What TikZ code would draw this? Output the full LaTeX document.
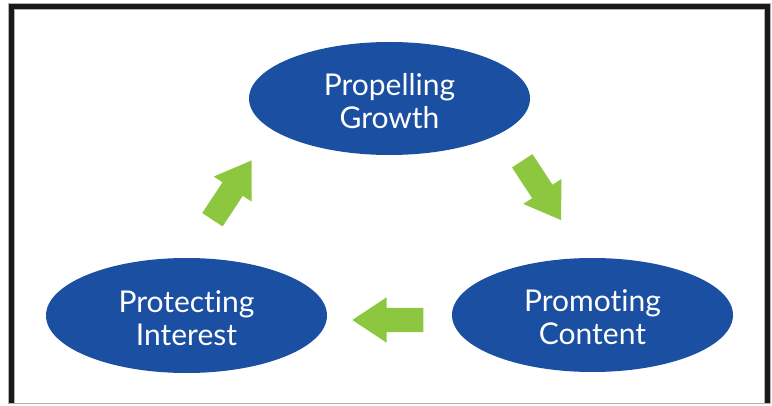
\documentclass[tikz,border=0pt]{standalone}
\usepackage{fontspec}
\setmainfont{Lato}[Ligatures={NoCommon,NoDiscretionary}]
\usetikzlibrary{shapes.geometric,shapes.arrows}
\definecolor{ovalblue}{RGB}{26,79,161}
\definecolor{arrgreen}{RGB}{141,198,63}
\newcommand{\topstrut}{\rule{0pt}{27pt}}
\begin{document}
\begin{tikzpicture}[x=1pt,y=1pt,
  oval/.style={ellipse, fill=ovalblue, inner sep=0pt, minimum width=281pt,
    text=white, align=center, font=\fontsize{30}{33}\selectfont},
  blockarrow/.style={single arrow, fill=arrgreen, inner xsep=0pt, inner ysep=12pt,
    minimum height=71pt, single arrow head extend=10.5pt,
    single arrow tip angle=67, anchor=tail, outer sep=0pt}]
\useasboundingbox (0,0) rectangle (772,405);
% frame
\draw[line width=7pt, gray!60] (11.5,1) -- (11.5,398.5) -- (767,398.5) -- (767,1);
\draw[line width=5pt, black!90] (11.5,1) -- (11.5,398.5) -- (767,398.5) -- (767,1);
\draw[line width=1pt, gray!60] (9,2) -- (770,2);
% ovals
\node[oval, minimum height=113pt] (grow) at (389.5,306.5) {\topstrut Propelling\\Growth};
\node[oval, minimum height=115pt] (prot) at (186.5,89.5) {\topstrut Protecting\\Interest};
\node[oval, minimum height=114pt] (prom) at (592.5,90) {\topstrut Promoting\\Content};
% arrows
\node[blockarrow, rotate=56.5] (a1) at (212.4,185.3) {};
\node[blockarrow, rotate=-56.7] (a2) at (522.2,244.2) {};
\node[blockarrow, rotate=180] (a3) at (423.3,85) {};
\end{tikzpicture}
\end{document}
